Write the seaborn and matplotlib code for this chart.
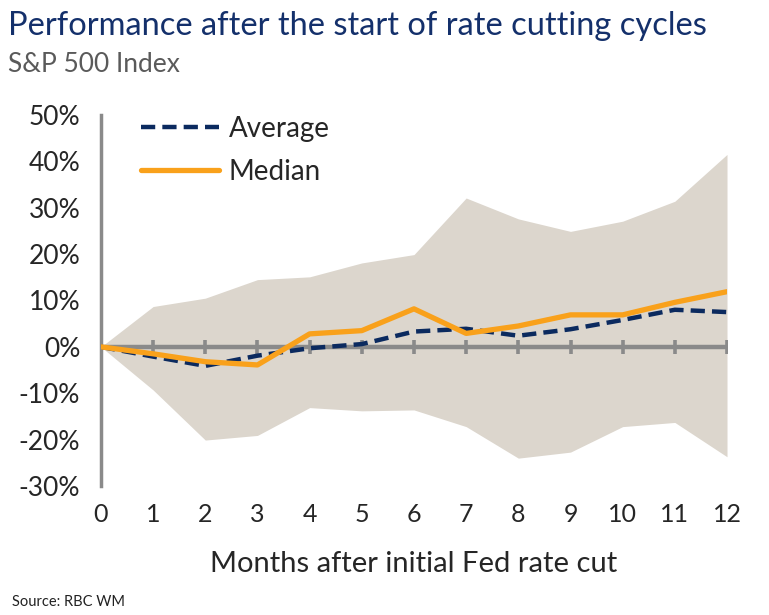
import matplotlib
matplotlib.use('Agg')
import matplotlib.pyplot as plt
import seaborn as sns
import pandas as pd

# values, % change of S&P 500 after first cut
months = list(range(13))
average = [0, -2.1, -4.1, -1.9, -0.3, 0.6, 3.3, 3.9, 2.4, 3.8, 5.8, 8.0, 7.5]
median = [0, -1.5, -3.2, -3.9, 2.8, 3.5, 8.2, 2.9, 4.5, 6.9, 6.9, 9.6, 11.9]
range_high = [0, 8.7, 10.5, 14.5, 15.1, 18.1, 19.9, 32.1, 27.6, 24.9, 27.1, 31.4, 41.5]
range_low = [0, -9.3, -20.1, -19.1, -13.1, -13.8, -13.6, -17.2, -24.0, -22.7, -17.2, -16.3, -23.7]
y_ticks = [-30, -20, -10, 0, 10, 20, 30, 40, 50]
y_labels = ['-30%', '-20%', '-10%', '0%', '10%', '20%', '30%', '40%', '50%']

navy = '#0b2a5f'
orange = '#f9a11b'
band = '#dcd6cd'
axis_grey = '#8a8a8a'

sns.set_style('white')
plt.rcParams['font.family'] = ['Lato', 'DejaVu Sans']

df = pd.DataFrame({'month': months, 'Average': average, 'Median': median})

fig = plt.figure(figsize=(7.69, 6.15), dpi=100)
ax = fig.add_axes([0.1313, 0.2098, 0.8141, 0.6032])

ax.fill_between(months, range_low, range_high, color=band, linewidth=0, zorder=1)
# zero line with its month ticks
ax.axhline(0, color=axis_grey, linewidth=3.2, zorder=2)
ax.plot(months, [0] * len(months), linestyle='none', marker='|', markersize=10,
        markeredgewidth=2.6, color=axis_grey, zorder=2)

sns.lineplot(data=df, x='month', y='Average', ax=ax, color=navy, linewidth=3.2,
             label='Average', zorder=3)
ax.lines[-1].set_dashes([3.2, 1.6])
sns.lineplot(data=df, x='month', y='Median', ax=ax, color=orange, linewidth=3.8,
             label='Median', zorder=4)

ax.set_xlim(0, 12)
ax.set_ylim(-30, 50)
ax.set_yticks(y_ticks)
ax.set_yticklabels(y_labels)
ax.set_xticks(months)
ax.set_xticklabels([str(m) for m in months])
ax.tick_params(axis='y', labelsize=19, length=5, width=2.5, color=axis_grey, pad=10)
ax.tick_params(axis='x', labelsize=18, length=0, pad=12)

for s in ['top', 'right', 'bottom']:
    ax.spines[s].set_visible(False)
ax.spines['left'].set_color(axis_grey)
ax.spines['left'].set_linewidth(2.5)

ax.set_xlabel('Months after initial Fed rate cut', fontsize=21, labelpad=18)
ax.set_ylabel('')

leg = ax.legend(loc='upper left', bbox_to_anchor=(0.024, 1.065), frameon=False,
                fontsize=20, handlelength=2.8, labelspacing=0.62, handletextpad=0.35)

fig.text(0.01, 0.943, 'Performance after the start of rate cutting cycles',
         fontsize=23.5, color='#14306b', ha='left', va='baseline')
fig.text(0.01, 0.883, 'S&P 500 Index', fontsize=19, color='#5a5a5a',
         ha='left', va='baseline')
fig.text(0.015, 0.015, 'Source: RBC WM', fontsize=10.5, color='#222222',
         ha='left', va='baseline')

fig.savefig('out.png', dpi=100)
